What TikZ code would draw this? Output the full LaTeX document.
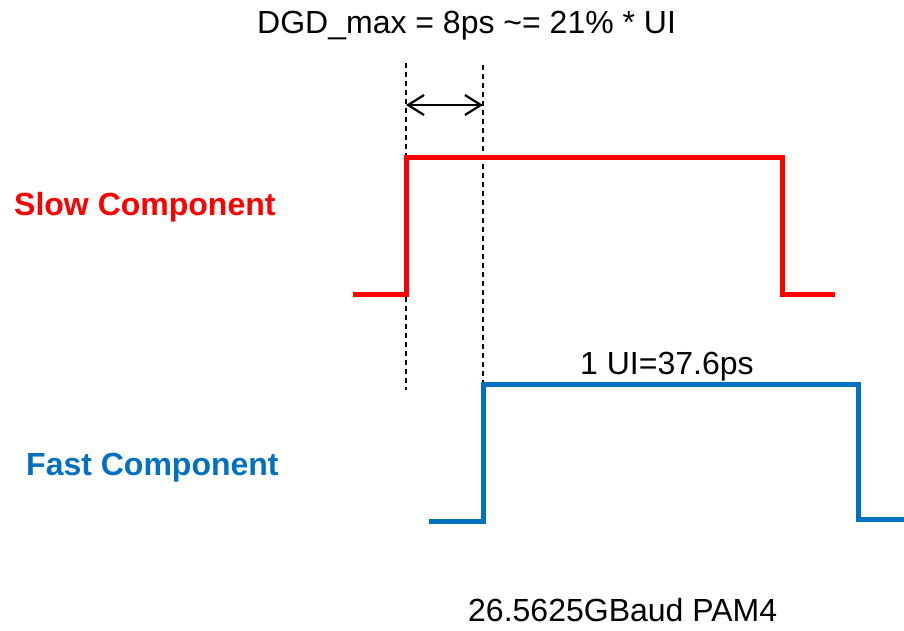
\documentclass[tikz,border=0pt]{standalone}
\usepackage{fontspec}
\setmainfont{Liberation Sans}
\usetikzlibrary{arrows.meta}
\definecolor{slowred}{RGB}{255,0,0}
\definecolor{fastblue}{RGB}{0,112,192}
\begin{document}
\begin{tikzpicture}[x=1pt,y=-1pt,
  lbl/.style={inner sep=0pt,anchor=base west,font=\fontsize{32}{36}\selectfont},
  boldlbl/.style={lbl,font=\fontsize{32}{36}\selectfont\bfseries},
  wave/.style={line width=5pt,line join=miter},
  guide/.style={line width=1.6pt,dash pattern=on 5pt off 4pt},
  span/.style={line width=2.2pt,{Straight Barb[length=16pt,width=20pt]}-{Straight Barb[length=16pt,width=20pt]}}]
\useasboundingbox (0,0) rectangle (904,630);
% coordinates
\coordinate (s0) at (353,294);
\coordinate (s1) at (406,294);
\coordinate (s2) at (406,157);
\coordinate (s3) at (782,157);
\coordinate (s4) at (782,294);
\coordinate (s5) at (835,294);
\coordinate (f0) at (429,521);
\coordinate (f1) at (483,521);
\coordinate (f2) at (483,384);
\coordinate (f3) at (858,384);
\coordinate (f4) at (858,519);
\coordinate (f5) at (906,519);
\coordinate (d1t) at (406,63);
\coordinate (d1b) at (406,390);
\coordinate (d2t) at (483,65);
\coordinate (d2b) at (483,386);
\coordinate (a1) at (406,105);
\coordinate (a2) at (483,105);
% guides
\draw[guide] (d1t) -- (d1b);
\draw[guide] (d2t) -- (d2b);
\draw[span] (a1) -- (a2);
% waveforms
\draw[wave,slowred] (s0) -- (s1) -- (s2) -- (s3) -- (s4) -- (s5);
\draw[wave,fastblue] (f0) -- (f1) -- (f2) -- (f3) -- (f4) -- (f5);
% labels
\node[lbl] (dgd) at (257,33) {DGD\_max = 8ps \textasciitilde= 21\% * UI};
\node[boldlbl,text=slowred] (slow) at (14,215) {Slow Component};
\node[boldlbl,text=fastblue] (fast) at (26,475) {Fast Component};
\node[lbl] (ui) at (580,374) {1 UI=37.6ps};
\node[lbl] (baud) at (468,621) {26.5625GBaud PAM4};
\end{tikzpicture}
\end{document}
